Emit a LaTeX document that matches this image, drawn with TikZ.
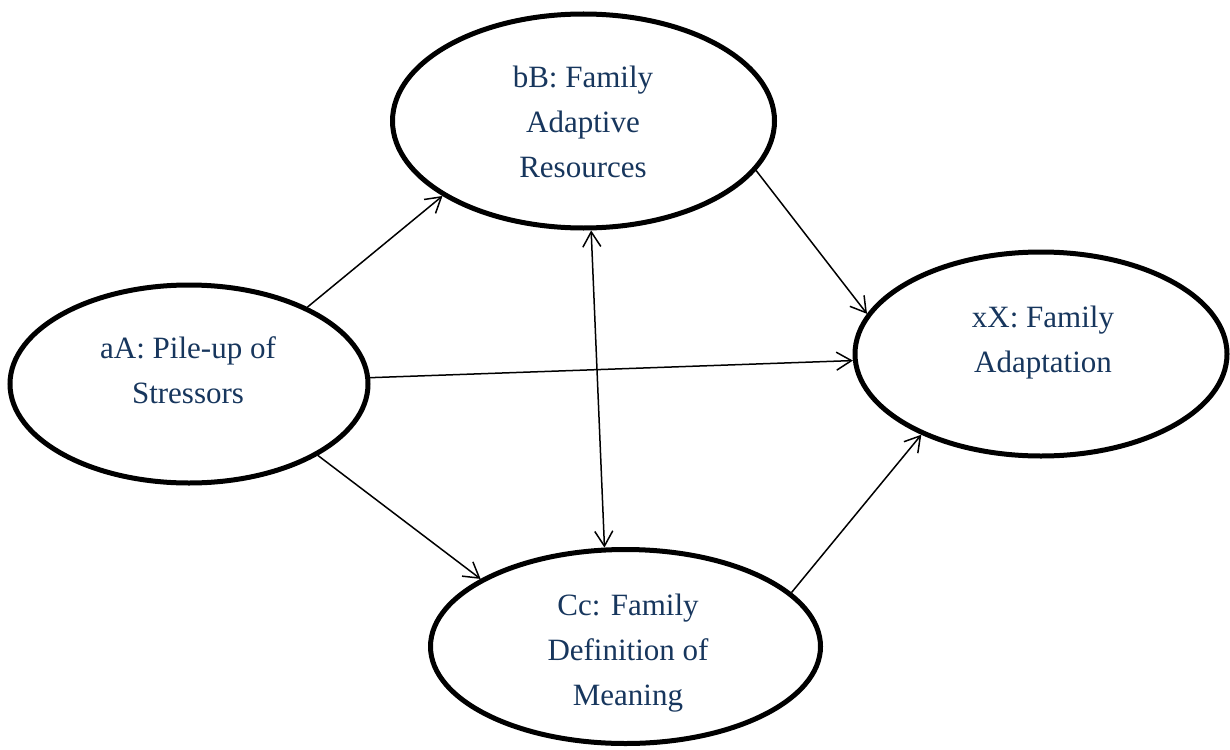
\documentclass[tikz,border=0pt]{standalone}
\usepackage{fontspec}
\setmainfont{Liberation Serif}
\usetikzlibrary{shapes.geometric,arrows.meta}
\definecolor{txt}{RGB}{23,54,93}
\begin{document}
\begin{tikzpicture}[x=1pt,y=-1pt,
  oval/.style={ellipse, draw, line width=5pt, inner sep=0pt},
  lbl/.style={align=center, text=txt, inner sep=0pt, font=\fontsize{31}{45}\selectfont},
  conn/.style={line width=1.5pt},
  >={Straight Barb[length=15pt,width=18pt]}]
\useasboundingbox (0,0) rectangle (1230,749);
\node[oval, minimum width=358pt, minimum height=198pt] (A) at (189,384) {};
\node[oval, minimum width=382pt, minimum height=214pt] (B) at (583.5,121) {};
\node[oval, minimum width=372pt, minimum height=204pt] (X) at (1041,354) {};
\node[oval, minimum width=390pt, minimum height=194pt] (C) at (625.5,646.5) {};
\node[lbl] (tA) at (188,370) {aA: Pile-up of\\Stressors};
\node[lbl] (tB) at (583,122) {bB: Family\\Adaptive\\Resources};
\node[lbl] (tX) at (1043,343) {xX: Family\\Adaptation};
\node[lbl] (tC) at (628,653) {Cc: Family\\Definition of\\Meaning};
\draw[conn,->] (A.33.4) -- (B.208.1);
\draw[conn,->] (A.2.8) -- (X.182.8);
\draw[conn,->] (A.331.4) -- (C.155.8);
\draw[conn,<->] (B.274) -- (C.102.5);
\draw[conn,->] (B.344.2) -- (X.167);
\draw[conn,->] (C.18.5) -- (X.214.7);
\end{tikzpicture}
\end{document}
